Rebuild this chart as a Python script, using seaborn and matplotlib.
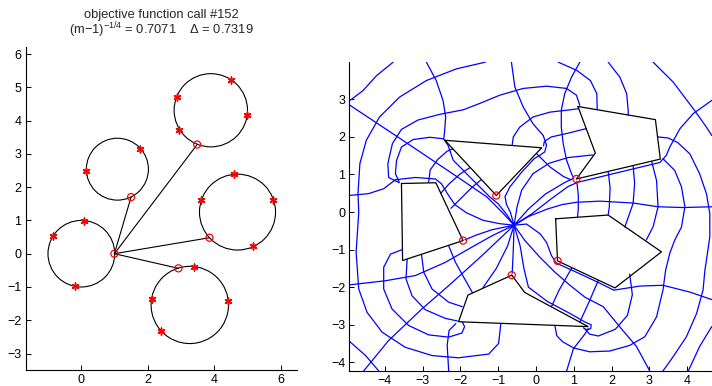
import matplotlib
matplotlib.use("Agg")
import matplotlib.pyplot as plt
import seaborn as sns
import pandas as pd
from matplotlib.patches import Circle

# ---------------- left panel: circle domain ----------------
circle_cx = [0.01, 1.09, 3.89, 4.69, 3.26]
circle_cy = [0.00, 2.54, 4.31, 1.25, -1.54]
circle_r = [1.00, 0.93, 1.10, 1.14, 1.16]

star_x = [0.08, -0.85, -0.17, 1.77, 0.16, 4.50, 2.87, 4.98, 2.94,
          4.58, 3.60, 5.76, 5.14, 3.40, 2.12, 4.41, 2.39]
star_y = [0.99, 0.53, -0.98, 3.15, 2.50, 5.23, 4.72, 4.17, 3.73,
          2.40, 1.60, 1.60, 0.22, -0.39, -1.36, -1.42, -2.31]

prev_x = [1.00, 1.50, 3.48, 3.85, 2.92]
prev_y = [0.00, 1.70, 3.28, 0.48, -0.44]

# ---------------- right panel: polygon domain ----------------
poly1 = [(-3.56, 0.76), (-2.65, 0.78), (-1.93, -0.76), (-3.53, -1.29)]
poly2 = [(-2.41, 1.91), (0.15, 1.71), (-1.05, 0.44)]
poly3 = [(1.11, 2.81), (3.16, 2.46), (3.29, 1.41), (1.07, 0.88), (1.57, 1.57)]
poly4 = [(0.52, -0.18), (1.91, -0.08), (3.32, -1.06), (2.09, -2.02), (0.57, -1.30)]
poly5 = [(-0.64, -1.68), (-0.30, -2.14), (1.38, -3.05), (-2.05, -2.92), (-1.80, -2.21)]

vert_x = [-1.93, -1.05, 1.07, 0.57, -0.64]
vert_y = [-0.76, 0.44, 0.88, -1.30, -1.68]

C = (-0.58, -0.35)

ray01 = [C, (-0.9, 0.0), (-1.3, 0.4), (-2.0, 0.88), (-2.8, 1.42), (-3.63, 1.98), (-4.95, 2.86)]
ray02 = [C, (-0.78, -0.06), (-1.0, 0.22), (-1.22, 0.4), (-1.66, 0.84), (-2.19, 1.38), (-2.33, 1.78),
         (-2.45, 1.95), (-2.81, 1.99), (-3.25, 1.93), (-3.56, 1.73), (-3.69, 1.37), (-3.72, 1.02), (-3.62, 0.8)]
ray03 = [C, (-0.68, 0.0), (-0.78, 0.2), (-0.82, 0.41), (-0.69, 0.67), (-0.38, 1.06), (-0.05, 1.42),
         (0.1, 1.51), (0.23, 1.6), (0.28, 1.78), (0.19, 2.04), (-0.08, 2.35), (-0.34, 2.8),
         (-0.56, 3.33), (-0.65, 3.99)]
ray04 = [C, (-0.2, 0.08), (0.25, 0.48), (0.75, 0.78), (1.0, 0.9), (0.94, 1.02), (0.81, 1.38),
         (0.72, 1.82), (0.67, 2.26), (0.67, 2.71), (0.76, 3.15), (0.94, 3.59), (1.16, 3.99)]
ray05 = [C, (-0.1, -0.04), (0.4, 0.35), (0.85, 0.68), (1.1, 0.79), (1.96, 1.0), (3.28, 1.32),
         (3.45, 1.51), (3.54, 1.73), (3.81, 2.22), (4.16, 2.62), (4.65, 2.97)]
ray06 = [C, (-0.2, -0.12), (0.3, 0.08), (0.7, 0.2), (1.07, 0.26), (1.69, 0.29), (2.57, 0.24),
         (3.23, 0.14), (3.89, 0.12), (4.65, 0.14)]
ray07 = [C, (-0.25, -0.32), (0.11, -0.58), (0.28, -0.81), (0.41, -1.16), (0.54, -1.36), (1.0, -1.57),
         (1.6, -1.85), (2.06, -2.08), (2.75, -1.97), (3.36, -1.95), (4.07, -2.13), (4.65, -2.33)]
ray08 = [C, (-0.42, -0.9), (-0.32, -1.5), (-0.2, -2.0), (0.3, -2.38), (0.9, -2.7), (1.3, -2.93),
         (1.46, -3.0), (1.45, -3.1), (1.35, -3.14), (1.25, -3.08)]
ray09 = [C, (-0.6, -1.0), (-0.63, -1.63)]
ray10 = [C, (-0.75, -0.9), (-1.05, -1.5), (-1.4, -2.01)]
ray11 = [C, (-1.43, -1.16), (-2.31, -1.96), (-3.02, -2.58), (-3.9, -3.42), (-4.56, -4.23)]
ray12 = [C, (-1.16, -0.63), (-1.69, -0.93), (-2.4, -1.34), (-3.19, -1.69), (-3.99, -1.83), (-4.95, -1.94)]
ray13 = [C, (-1.16, -0.47), (-1.6, -0.62), (-1.88, -0.74)]
ray14 = [C, (-0.96, -0.31), (-1.4, -0.22), (-1.84, -0.02), (-2.15, 0.2), (-2.35, 0.5), (-2.5, 0.75),
         (-2.66, 0.88), (-3.19, 0.92), (-3.72, 0.86), (-4.03, 0.62), (-4.43, 0.49), (-4.95, 0.44)]
ray16 = [C, (-0.5, 0.14), (-0.38, 0.58), (-0.08, 1.02), (0.35, 1.3), (0.85, 1.45), (1.5, 1.52)]
ray17 = [C, (-0.3, -0.75), (0.1, -1.2), (0.5, -1.6), (0.9, -1.95), (1.3, -2.27), (1.78, -2.52),
         (2.22, -3.06), (2.66, -3.58), (3.01, -4.23)]

seg_a = [(-2.12, -2.97), (-2.3, -3.15), (-2.35, -3.55), (-2.31, -4.23)]
seg_b = [(1.38, -3.1), (1.3, -3.24), (0.99, -3.64), (0.81, -4.23)]

loop_outer = [(-1.34, 3.99), (-2.11, 3.81), (-2.9, 3.5), (-3.61, 3.06), (-4.14, 2.53), (-4.49, 1.91),
              (-4.66, 1.29), (-4.71, 0.49), (-4.69, -0.01), (-4.76, -1.07), (-4.69, -2.05),
              (-4.47, -2.67), (-4.07, -3.2), (-3.46, -3.6), (-2.75, -3.82), (-2.05, -3.88),
              (-1.25, -3.78), (-0.99, -3.5), (-0.93, -2.97)]
arc_corner = [(-3.78, 3.99), (-4.22, 3.63), (-4.58, 3.23), (-4.95, 2.95)]
arc_top_a = [(-2.9, 3.99), (-2.64, 3.5), (-2.46, 2.97), (-2.39, 2.53), (-2.42, 2.13), (-2.44, 1.95)]
loop_b_top = [(1.16, 2.84), (1.07, 3.11), (0.81, 3.29), (0.28, 3.35), (-0.34, 3.29), (-0.96, 3.11),
              (-1.49, 2.89), (-1.93, 2.72), (-2.55, 2.6), (-3.12, 2.45), (-3.56, 2.2), (-3.8, 1.82),
              (-3.92, 1.29), (-3.9, 0.92), (-3.62, 0.78)]
loop_b_low = [(-3.54, -1.0), (-3.85, -1.12), (-4.03, -1.47), (-4.03, -2.05), (-3.81, -2.58),
              (-3.37, -3.02), (-2.84, -3.27), (-2.31, -3.33), (-1.96, -3.22), (-1.89, -3.05), (-1.95, -2.93)]
arc_l1 = [(-3.41, -1.26), (-3.44, -1.78), (-3.28, -2.23), (-2.93, -2.6), (-2.4, -2.83), (-2.08, -2.9)]
arc_l2 = [(-3.03, -1.13), (-2.97, -1.6), (-2.75, -2.05), (-2.31, -2.4), (-1.95, -2.52)]
arc_l3 = [(-2.31, -0.9), (-2.13, -1.34), (-1.91, -1.74), (-1.68, -2.15)]
arc_tl1 = [(-2.84, 0.79), (-2.8, 1.12), (-2.6, 1.4), (-2.35, 1.62), (-2.2, 1.68)]
arc_tl2 = [(-2.52, 0.5), (-2.3, 0.75), (-2.0, 1.02), (-1.75, 1.18)]
arc_tl3 = [(-2.25, 0.1), (-2.0, 0.35), (-1.7, 0.65), (-1.45, 0.86)]
arc_t1 = [(-0.63, 1.78), (-0.6, 2.0), (-0.43, 2.26), (-0.08, 2.53), (0.37, 2.66), (0.81, 2.71), (1.12, 2.75)]
arc_t2 = [(0.2, 1.76), (0.22, 1.88), (0.41, 2.0), (0.81, 2.09), (1.33, 2.22)]
arc_t3 = [(0.02, 1.55), (0.37, 1.2), (0.72, 0.95), (0.92, 0.86)]
arc_r1 = [(1.08, 0.82), (1.12, 0.45), (1.12, 0.1), (1.1, -0.13)]
arc_r2 = [(1.91, 1.08), (1.96, 0.66), (1.94, 0.13), (1.91, -0.08)]
arc_r3 = [(2.57, 1.24), (2.61, 0.76), (2.57, 0.23), (2.35, -0.4)]
arc_r4 = [(3.06, 1.35), (3.19, 0.84), (3.23, 0.14), (3.1, -0.39), (2.92, -0.74)]
loop_inner_right = [(3.36, 1.42), (3.67, 1.11), (3.85, 0.67), (3.94, 0.14), (3.85, -0.4), (3.67, -0.75),
                    (3.54, -1.1), (3.43, -1.55), (3.36, -2.08), (3.19, -2.79), (2.88, -3.32),
                    (2.48, -3.55), (1.95, -3.7), (1.42, -3.72), (1.0, -3.62), (0.7, -3.45),
                    (0.55, -3.29), (0.5, -3.02)]
loop_outer_right = [(3.22, 2.0), (3.5, 1.97), (3.75, 1.85), (4.07, 1.55), (4.33, 1.02), (4.51, 0.49),
                    (4.6, -0.04), (4.6, -0.66), (4.51, -1.28), (4.47, -1.55), (4.42, -2.08),
                    (4.25, -2.7), (3.98, -3.32), (3.63, -3.85), (3.36, -4.23)]
arc_far_r1 = [(3.1, 3.99), (3.63, 3.46), (4.2, 2.7), (4.51, 2.26), (4.65, 2.04)]
arc_far_r2 = [(4.65, -3.05), (4.33, -3.58), (4.03, -4.23)]
arc_top_b = [(0.59, 3.99), (1.08, 3.77), (1.44, 3.5), (1.61, 3.15), (1.62, 2.73)]
arc_top_c = [(1.91, 3.99), (2.22, 3.59), (2.4, 3.15), (2.44, 2.7), (2.44, 2.58)]
arc_b1 = [(2.48, -1.65), (2.55, -2.2), (2.42, -2.75), (2.1, -3.12), (1.65, -3.3), (1.42, -3.25), (1.3, -3.12)]
arc_b2 = [(0.41, -2.52), (0.6, -2.1), (0.94, -1.5)]
arc_b3 = [(1.16, -2.93), (1.4, -2.4), (1.65, -1.82)]
arc_bl = [(-4.96, -3.42), (-4.51, -3.82), (-4.16, -4.23)]

blue_curves = [ray01, ray02, ray03, ray04, ray05, ray06, ray07, ray08, ray09, ray10, ray11, ray12,
               ray13, ray14, ray16, ray17, seg_a, seg_b, loop_outer, arc_corner, arc_top_a,
               loop_b_top, loop_b_low, arc_l1, arc_l2, arc_l3, arc_tl1, arc_tl2, arc_tl3, arc_t1,
               arc_t2, arc_t3, arc_r1, arc_r2, arc_r3, arc_r4, loop_inner_right, loop_outer_right,
               arc_far_r1, arc_far_r2, arc_top_b, arc_top_c, arc_b1, arc_b2, arc_b3, arc_bl]
polygons = [poly1, poly2, poly3, poly4, poly5]


def to_frame(curves, closed=False):
    rows = []
    for k, pts in enumerate(curves):
        seq = list(pts) + ([pts[0]] if closed else [])
        for i, (x, y) in enumerate(seq):
            rows.append({"curve": k, "order": i, "x": x, "y": y})
    return pd.DataFrame(rows)


sns.set_theme(style="white")
plt.rcParams["font.family"] = ["Liberation Sans", "DejaVu Sans"]
plt.rcParams["mathtext.fontset"] = "custom"
plt.rcParams["mathtext.rm"] = "Liberation Sans"
plt.rcParams["mathtext.it"] = "Liberation Sans:italic"
plt.rcParams["mathtext.bf"] = "Liberation Sans:bold"
plt.rcParams["lines.solid_joinstyle"] = "round"

fig = plt.figure(figsize=(7.12, 3.86), dpi=100)
axL = fig.add_axes([0.036, 0.041, 0.381, 0.838])
axR = fig.add_axes([0.4906, 0.039, 0.509, 0.800])

# left panel
for cx, cy, r in zip(circle_cx, circle_cy, circle_r):
    axL.add_patch(Circle((cx, cy), r, fill=False, ec="black", lw=0.8))
link_rows = []
for k in range(1, len(prev_x)):
    link_rows.append({"seg": k, "x": prev_x[0], "y": prev_y[0]})
    link_rows.append({"seg": k, "x": prev_x[k], "y": prev_y[k]})
sns.lineplot(data=pd.DataFrame(link_rows), x="x", y="y", units="seg", estimator=None, sort=False,
             color="black", lw=0.8, ax=axL, legend=False)
axL.scatter(star_x, star_y, marker=(6, 2, 0), s=24, color="red", linewidths=1.1, zorder=5)
axL.scatter(prev_x, prev_y, marker="o", s=26, facecolors="none", edgecolors="red", linewidths=0.9, zorder=5)
axL.set_xlim(-1.66, 6.47)
axL.set_ylim(-3.5, 6.22)
axL.set_xticks([0, 2, 4, 6])
axL.set_yticks(list(range(-3, 7)))

# right panel
sns.lineplot(data=to_frame(blue_curves), x="x", y="y", units="curve", estimator=None, sort=False,
             color="blue", lw=0.9, ax=axR, legend=False)
sns.lineplot(data=to_frame(polygons, closed=True), x="x", y="y", units="curve", estimator=None,
             sort=False, color="black", lw=0.9, ax=axR, legend=False)
axR.scatter(vert_x, vert_y, marker="o", s=26, facecolors="none", edgecolors="red", linewidths=0.9, zorder=5)
axR.set_xlim(-4.94, 4.65)
axR.set_ylim(-4.23, 3.99)
axR.set_xticks(list(range(-4, 5)))
axR.set_yticks(list(range(-4, 4)))

for ax in (axL, axR):
    ax.set_xlabel("")
    ax.set_ylabel("")
    for side in ("top", "right"):
        ax.spines[side].set_visible(False)
    for side in ("left", "bottom"):
        ax.spines[side].set_color("black")
        ax.spines[side].set_linewidth(0.8)
    ax.tick_params(direction="in", length=3.5, width=0.7, labelsize=9, colors="black",
                   left=True, bottom=True, pad=3)
    ax.set_facecolor("white")
    ax.grid(False)

fig.text(0.226, 0.962, "objective function call #152", ha="center", va="center", fontsize=9.3)
fig.text(0.226, 0.921, r"(m$-$1)$^{-1/4}$ = 0.7071    Δ = 0.7319", ha="center", va="center", fontsize=9.3)

fig.savefig("out.png", dpi=100, facecolor="white")
